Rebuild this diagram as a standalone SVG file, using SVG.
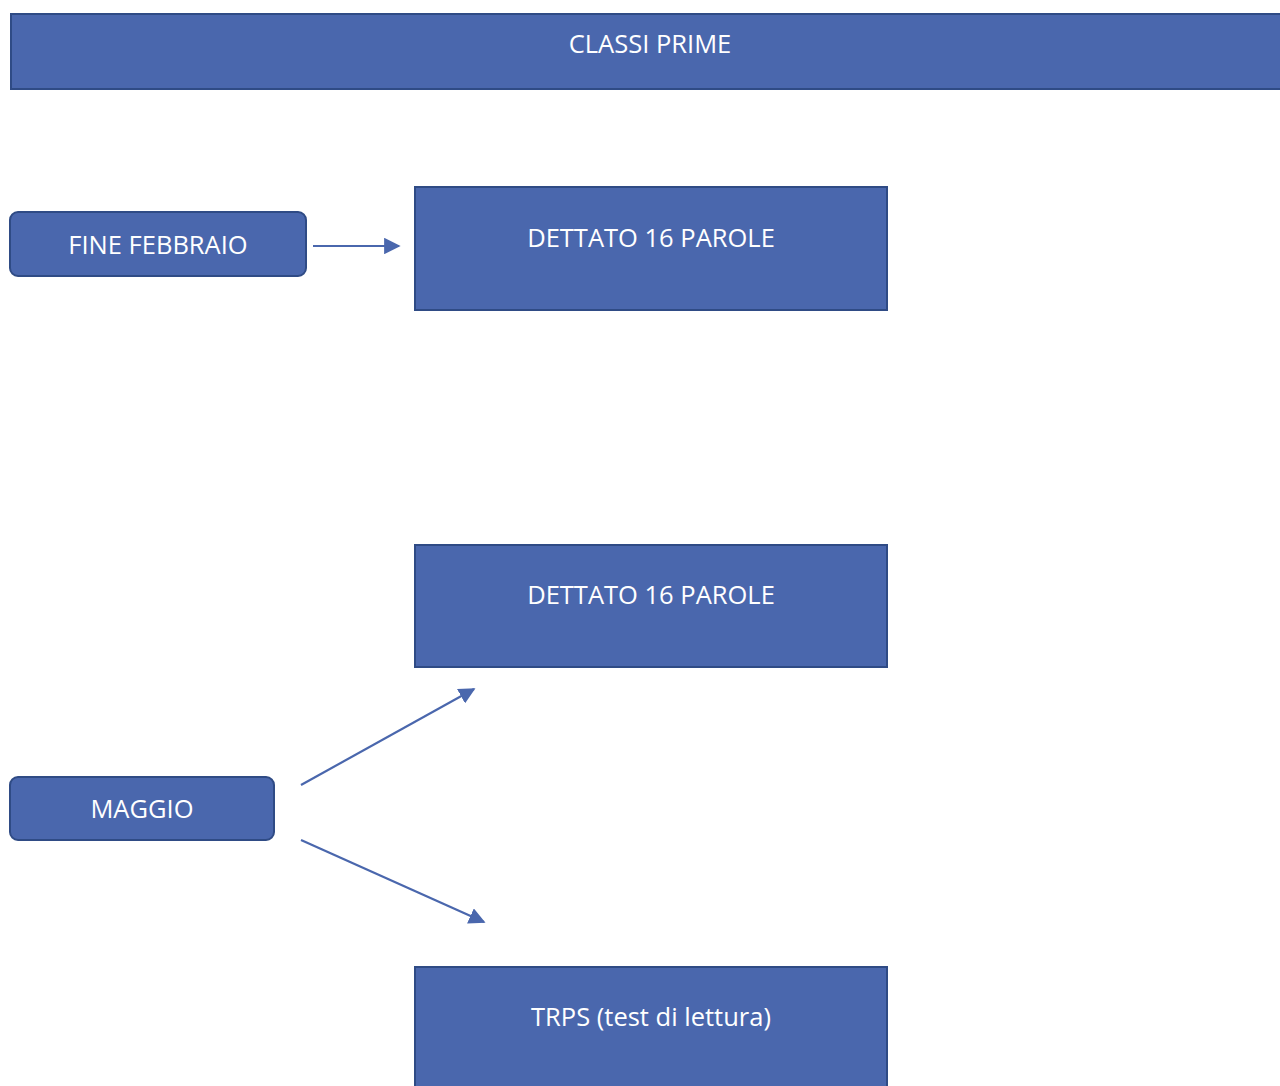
<svg xmlns="http://www.w3.org/2000/svg" width="1280" height="1086" viewBox="0 0 1280 1086">
<style>
.box{fill:#4a67ad;stroke:#2f4b85;stroke-width:2}
.t{fill:#ffffff;font-family:"Open Sans","Liberation Sans",sans-serif;font-size:25.5px;text-anchor:middle;dominant-baseline:central}
.c{stroke:#4a67ad;stroke-width:2.2;fill:none}
</style>
<defs>
<marker id="ah2" viewBox="0 0 10 10" refX="9" refY="5" markerWidth="7.5" markerHeight="7.5" orient="auto">
<path d="M0,0 L10,5 L0,10 z" fill="#4a67ad"/>
</marker>
</defs>
<rect width="1280" height="1086" fill="#ffffff"/>
<g id="header">
<rect class="box" x="11" y="14" width="1280" height="75"/>
<text class="t" x="650" y="43">CLASSI PRIME</text>
</g>
<g id="fine-febbraio">
<rect class="box" x="10" y="212" width="296" height="64" rx="8"/>
<text class="t" x="158" y="244">FINE FEBBRAIO</text>
</g>
<g id="dettato1">
<rect class="box" x="415" y="187" width="472" height="123"/>
<text class="t" x="651" y="237">DETTATO 16 PAROLE</text>
</g>
<g id="dettato2">
<rect class="box" x="415" y="545" width="472" height="122"/>
<text class="t" x="651" y="594">DETTATO 16 PAROLE</text>
</g>
<g id="maggio">
<rect class="box" x="10" y="777" width="264" height="63" rx="8"/>
<text class="t" x="142" y="808">MAGGIO</text>
</g>
<g id="trps">
<rect class="box" x="415" y="967" width="472" height="130"/>
<text class="t" x="651" y="1016">TRPS (test di lettura)</text>
</g>
<g id="connectors">
<line class="c" x1="313" y1="246" x2="399" y2="246" marker-end="url(#ah2)"/>
<line class="c" x1="301" y1="785" x2="474" y2="689" marker-end="url(#ah2)"/>
<line class="c" x1="301" y1="840" x2="484" y2="922" marker-end="url(#ah2)"/>
</g>
</svg>
